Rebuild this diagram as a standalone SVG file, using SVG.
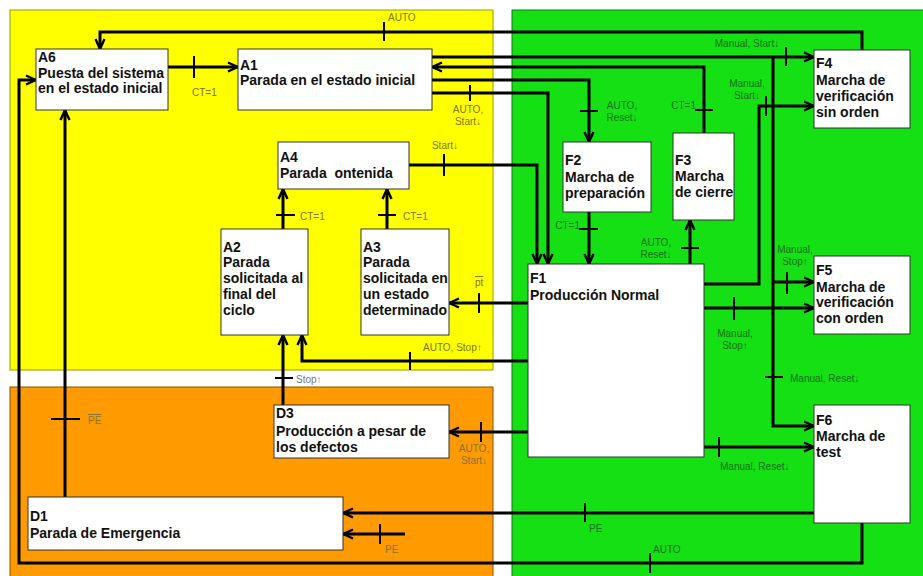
<svg xmlns="http://www.w3.org/2000/svg" width="923" height="576" viewBox="0 0 923 576">
<defs>
<marker id="arr" viewBox="0 0 12 12" refX="11" refY="6" markerWidth="12" markerHeight="12" markerUnits="userSpaceOnUse" orient="auto">
<path d="M1,1.5 L11,6 L1,10.5" fill="none" stroke="#000" stroke-width="2.4"/>
<path d="M5,3.8 L11,6 L5,8.2z" fill="#000"/>
</marker>
<style>
.node rect{fill:#fff;stroke:#333;stroke-width:1}
.node text{font-family:"Liberation Sans",Arial,sans-serif;font-size:14px;font-weight:bold;fill:#111}
.c{fill:none;stroke:#000;stroke-width:3}
.a{marker-end:url(#arr)}
.t{stroke:#000;stroke-width:2}
.lab{font-family:"Liberation Sans",Arial,sans-serif;font-size:10px}
.ly{fill:#7d7610}
.lg{fill:#17701a}
.lo{fill:#8c7430}
.lw{fill:#777}
.ov{text-decoration:overline}
</style>
</defs>
<rect width="923" height="576" fill="#fff"/>
<g id="panels">
<rect x="10" y="10" width="483" height="360" fill="#ffff00" stroke="#9a9a00" stroke-width="1"/>
<rect x="10" y="387" width="483" height="195" fill="#ff9a00" stroke="#8a5000" stroke-width="1"/>
<rect x="512" y="10" width="416" height="572" fill="#14e014" stroke="#0a7a0a" stroke-width="1"/>
</g>
<g id="connectors">
<!-- A6 -> A1 -->
<path class="c a" d="M168,67 H238"/><path class="t" d="M194,56 V78"/>
<!-- F4 -> A6 top AUTO -->
<path class="c a" d="M862,50 V32 H100 V49"/><path class="t" d="M384,22 V41"/>
<!-- F6 -> A6 bottom AUTO -->
<path class="c a" d="M862,523 V563 H19 V80 H36"/><path class="t" d="M650,553 V573"/>
<!-- A1 -> F4 / F5 / F6 -->
<path class="c a" d="M432,57 H814"/><path class="t" d="M786,47 V66"/>
<path class="c a" d="M773,57 V426 H814"/><path class="t" d="M765,377 H783"/>
<path class="c a" d="M773,282 H814"/><path class="t" d="M787,272 V294"/>
<!-- F3 -> A1 -->
<path class="c a" d="M704,133 V67 H432"/><path class="t" d="M695,110 H713"/>
<!-- A1 -> F2 -->
<path class="c a" d="M432,80 H589 V142"/><path class="t" d="M580,111 H598"/>
<!-- A1 -> F1 -->
<path class="c a" d="M432,93 H548 V264"/><path class="t" d="M470,85 V101"/>
<!-- A4 -> F1 -->
<path class="c a" d="M409,165 H537 V264"/><path class="t" d="M444,154 V176"/>
<!-- F2 -> F1 -->
<path class="c a" d="M589,212 V264"/><path class="t" d="M579,229 H598"/>
<!-- F1 -> F3 -->
<path class="c a" d="M690,264 V220"/><path class="t" d="M681,248 H699"/>
<!-- F1 -> F4 -->
<path class="c a" d="M704,284 H759 V106 H814"/><path class="t" d="M766,96 V116"/>
<!-- F1 -> F5 -->
<path class="c a" d="M704,308 H814"/><path class="t" d="M734,297 V320"/>
<!-- F1 -> F6 -->
<path class="c a" d="M704,447 H814"/><path class="t" d="M719,437 V457"/>
<!-- F1 -> A3 -->
<path class="c a" d="M528,303 H449"/><path class="t" d="M479,293 V313"/>
<!-- F1 -> A2 -->
<path class="c a" d="M528,361 H302 V335"/><path class="t" d="M410,352 V370"/>
<!-- D3 -> A2 -->
<path class="c a" d="M283,405 V335"/><path class="t" d="M275,378 H293"/>
<!-- A2 -> A4 -->
<path class="c a" d="M283,229 V189"/><path class="t" d="M276,215 H295"/>
<!-- A3 -> A4 -->
<path class="c a" d="M387,229 V189"/><path class="t" d="M378,215 H396"/>
<!-- F1 -> D3 -->
<path class="c a" d="M528,432 H449"/><path class="t" d="M481,422 V442"/>
<!-- F6 -> D1 -->
<path class="c a" d="M814,513 H343"/><path class="t" d="M585,503 V522"/>
<!-- PE -> D1 -->
<path class="c a" d="M405,534 H343"/><path class="t" d="M380,524 V544"/>
<!-- D1 -> A6 -->
<path class="c a" d="M65,497 V110"/><path class="t" d="M51,419 H80"/>
</g>
<g id="labels" class="lab">
<text class="ly" x="388" y="21">AUTO</text>
<text class="ly" x="192" y="96">CT=1</text>
<text class="ly" x="468" y="113" text-anchor="middle">AUTO,</text>
<text class="ly" x="468" y="125" text-anchor="middle">Start↓</text>
<text class="ly" x="445" y="149" text-anchor="middle">Start↓</text>
<text class="ly" x="300" y="220">CT=1</text>
<text class="ly" x="403" y="220">CT=1</text>
<text class="ly ov" x="475" y="286">pt</text>
<text class="ly" x="423" y="351">AUTO, Stop↑</text>
<text class="lw" x="296" y="383">Stop↑</text>
<text class="lo ov" x="88" y="424">PE</text>
<text class="lo" x="474" y="452" text-anchor="middle">AUTO,</text>
<text class="lo" x="474" y="464" text-anchor="middle">Start↓</text>
<text class="lo" x="385" y="553">PE</text>
<text class="lg" x="589" y="532">PE</text>
<text class="lg" x="653" y="553">AUTO</text>
<text class="lg" x="747" y="47" text-anchor="middle">Manual, Start↓</text>
<text class="lg" x="747" y="87" text-anchor="middle">Manual,</text>
<text class="lg" x="747" y="99" text-anchor="middle">Start↓</text>
<text class="lg" x="622" y="109" text-anchor="middle">AUTO,</text>
<text class="lg" x="622" y="121" text-anchor="middle">Reset↓</text>
<text class="lg" x="696" y="109" text-anchor="end">CT=1</text>
<text class="lg" x="580" y="229" text-anchor="end">CT=1</text>
<text class="lg" x="656" y="246" text-anchor="middle">AUTO,</text>
<text class="lg" x="656" y="258" text-anchor="middle">Reset↓</text>
<text class="lg" x="795" y="253" text-anchor="middle">Manual,</text>
<text class="lg" x="795" y="265" text-anchor="middle">Stop↑</text>
<text class="lg" x="735" y="337" text-anchor="middle">Manual,</text>
<text class="lg" x="735" y="349" text-anchor="middle">Stop↑</text>
<text class="lg" x="790" y="382">Manual, Reset↓</text>
<text class="lg" x="720" y="470">Manual, Reset↓</text>
</g>
<g id="A6" class="node"><rect x="36" y="49" width="132" height="61"/>
<text x="38" y="62">A6</text><text x="38" y="78">Puesta del sistema</text><text x="38" y="93">en el estado inicial</text></g>
<g id="A1" class="node"><rect x="238" y="49" width="194" height="61"/>
<text x="240" y="70">A1</text><text x="240" y="85">Parada en el estado inicial</text></g>
<g id="A4" class="node"><rect x="278" y="142" width="131" height="47"/>
<text x="280" y="162">A4</text><text x="280" y="178" xml:space="preserve">Parada  ontenida</text></g>
<g id="A2" class="node"><rect x="221" y="229" width="87" height="106"/>
<text x="223" y="252">A2</text><text x="223" y="267">Parada</text><text x="223" y="283">solicitada al</text><text x="223" y="299">final del</text><text x="223" y="315">ciclo</text></g>
<g id="A3" class="node"><rect x="361" y="229" width="88" height="106"/>
<text x="363" y="252">A3</text><text x="363" y="267">Parada</text><text x="363" y="283">solicitada en</text><text x="363" y="299">un estado</text><text x="363" y="315">determinado</text></g>
<g id="F1" class="node"><rect x="528" y="264" width="176" height="193"/>
<text x="530" y="283">F1</text><text x="530" y="300">Producción Normal</text></g>
<g id="F2" class="node"><rect x="563" y="142" width="88" height="70"/>
<text x="565" y="165">F2</text><text x="565" y="182">Marcha de</text><text x="565" y="198">preparación</text></g>
<g id="F3" class="node"><rect x="673" y="133" width="61" height="87"/>
<text x="675" y="165">F3</text><text x="675" y="181">Marcha</text><text x="675" y="197">de cierre</text></g>
<g id="F4" class="node"><rect x="814" y="50" width="96" height="78"/>
<text x="816" y="68">F4</text><text x="816" y="85">Marcha de</text><text x="816" y="101">verificación</text><text x="816" y="117">sin orden</text></g>
<g id="F5" class="node"><rect x="814" y="256" width="96" height="78"/>
<text x="816" y="275">F5</text><text x="816" y="292">Marcha de</text><text x="816" y="307">verificación</text><text x="816" y="323">con orden</text></g>
<g id="F6" class="node"><rect x="814" y="405" width="96" height="118"/>
<text x="816" y="425">F6</text><text x="816" y="441">Marcha de</text><text x="816" y="457">test</text></g>
<g id="D3" class="node"><rect x="274" y="405" width="175" height="53"/>
<text x="276" y="418">D3</text><text x="276" y="436">Producción a pesar de</text><text x="276" y="452">los defectos</text></g>
<g id="D1" class="node"><rect x="28" y="497" width="315" height="53"/>
<text x="30" y="521">D1</text><text x="30" y="538">Parada de Emergencia</text></g>
</svg>
